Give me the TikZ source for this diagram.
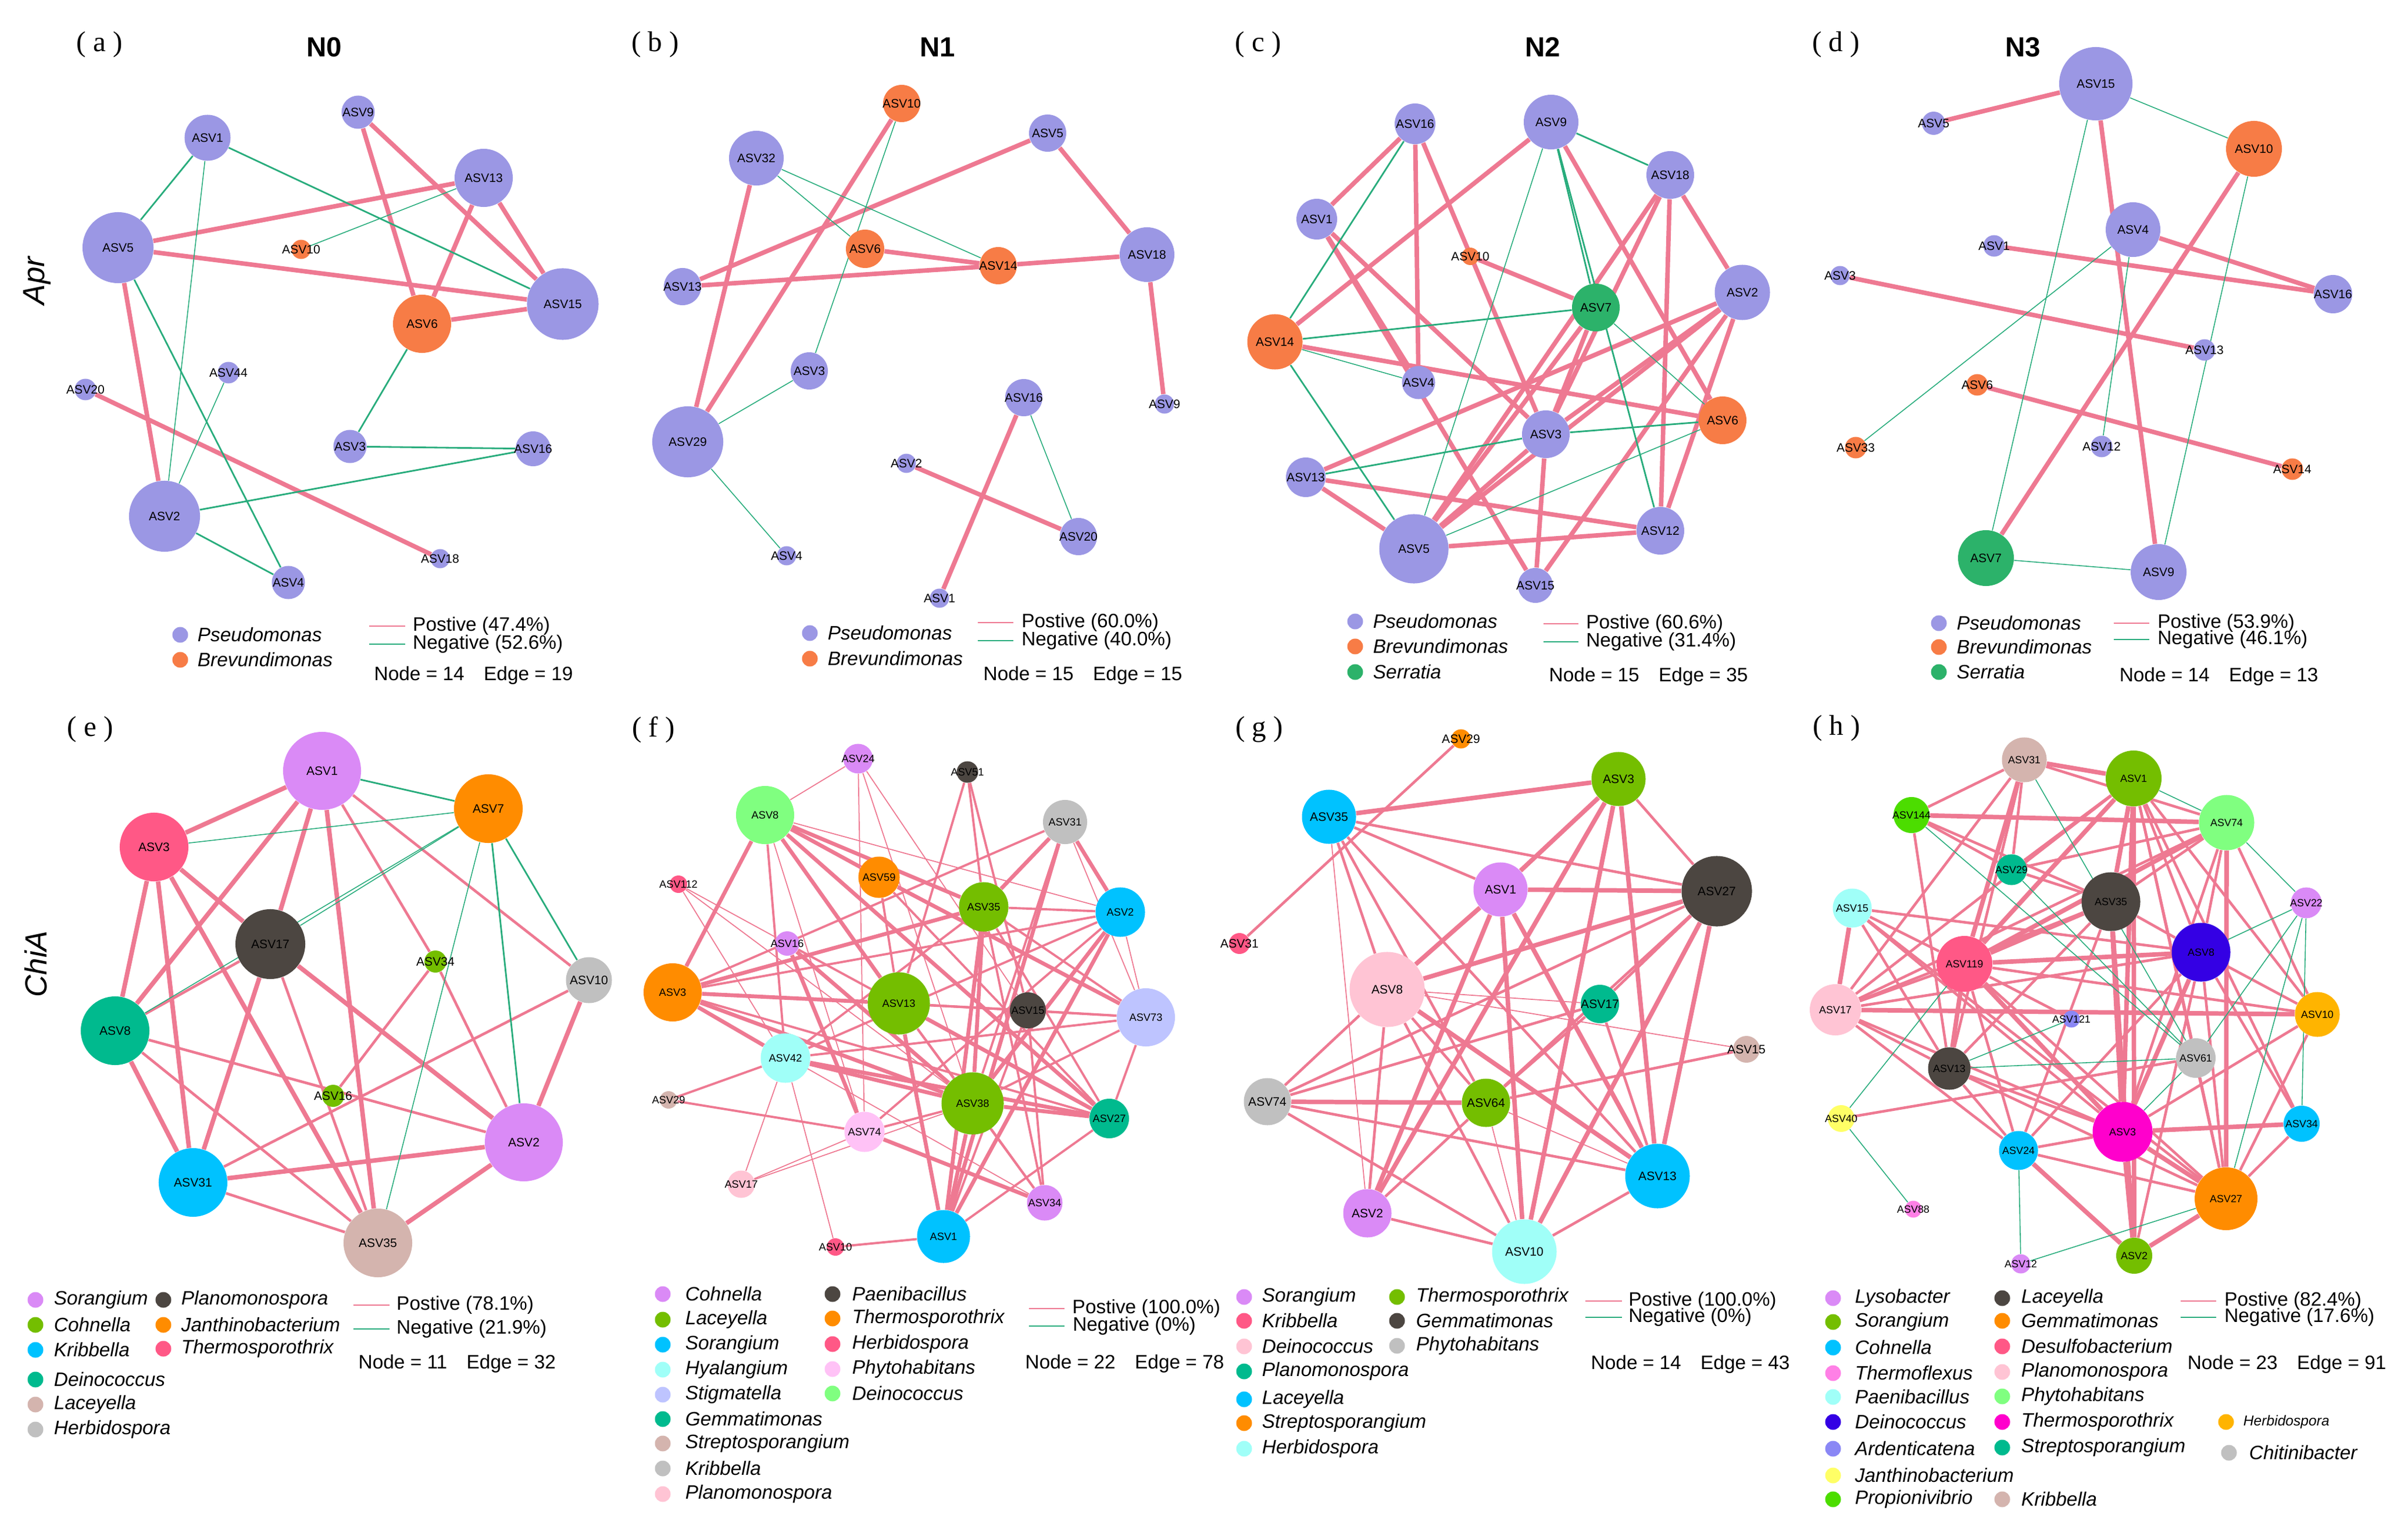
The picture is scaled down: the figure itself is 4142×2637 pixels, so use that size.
\documentclass[tikz,border=0pt]{standalone}
\usepackage{fontspec}
\setmainfont{Liberation Sans}
\newfontfamily\timesfont{Liberation Serif}
\usetikzlibrary{positioning,backgrounds}

\definecolor{cPse}{RGB}{155,151,228}
\definecolor{cBre}{RGB}{247,124,70}
\definecolor{cSer}{RGB}{44,178,106}
\definecolor{cPos}{RGB}{238,121,146}
\definecolor{cNeg}{RGB}{40,172,124}
\definecolor{cViolet}{RGB}{218,138,246}
\definecolor{cLime}{RGB}{116,190,0}
\definecolor{cCyan}{RGB}{0,194,255}
\definecolor{cTeal}{RGB}{0,186,142}
\definecolor{cRosy}{RGB}{212,180,174}
\definecolor{cGray}{RGB}{192,192,192}
\definecolor{cDark}{RGB}{76,70,65}
\definecolor{cOrange}{RGB}{255,140,0}
\definecolor{cHot}{RGB}{255,88,134}
\definecolor{cLcyan}{RGB}{160,255,248}
\definecolor{cLav}{RGB}{190,196,255}
\definecolor{cLpink}{RGB}{255,196,212}
\definecolor{cPinkish}{RGB}{255,194,246}
\definecolor{cLgreen}{RGB}{128,255,128}
\definecolor{cBlue}{RGB}{52,0,228}
\definecolor{cMag}{RGB}{255,0,204}
\definecolor{cYellow}{RGB}{255,255,102}
\definecolor{cBgreen}{RGB}{76,221,0}
\definecolor{cPeri}{RGB}{138,135,245}
\definecolor{cPviolet}{RGB}{255,128,230}
\definecolor{cAmber}{RGB}{255,180,0}

\newcommand\legfont{\fontsize{9.5}{11}\selectfont}

\begin{document}
\begin{tikzpicture}[
    x=0.01cm, y=-0.01cm,
    asv/.style={circle, inner sep=0pt, fill=#1},
    every label/.style={font=\fontsize{6}{6}\selectfont, inner sep=0pt},
    pA/.style={draw=cPos, line width=2.2pt},
    pB/.style={draw=cPos, line width=1.3pt},
    pC/.style={draw=cPos, line width=0.5pt},
    nA/.style={draw=cNeg, line width=0.8pt},
    nB/.style={draw=cNeg, line width=0.45pt},
    dot/.style={circle, inner sep=0pt, minimum size=0.27cm, fill=#1},
    gen/.style={font=\legfont\itshape, inner sep=0pt, anchor=west},
    txt/.style={font=\legfont, inner sep=0pt, anchor=west},
    lpos/.style={draw=cPos, line width=0.7pt},
    lneg/.style={draw=cNeg, line width=0.7pt},
    plabel/.style={font=\timesfont\fontsize{14}{14}\selectfont},
    ptitle/.style={font=\bfseries\fontsize{13.5}{14}\selectfont},
    rowlab/.style={font=\itshape\fontsize{15}{15}\selectfont, rotate=90}
]
    \useasboundingbox (0,0) rectangle (4142,2637);

    % --- Titles ---
    \node[plabel] (pa) at (171,77) {( a )};
    \node[plabel] (pb) at (1127,77) {( b )};
    \node[plabel] (pc) at (2164,77) {( c )};
    \node[plabel] (pd) at (3158,77) {( d )};
    \node[plabel] (pe) at (155,1255) {( e )};
    \node[plabel] (pf) at (1124,1255) {( f )};
    \node[plabel] (pg) at (2166,1255) {( g )};
    \node[plabel] (ph) at (3159,1253) {( h )};
    \node[ptitle] (t0) at (558,81) {N0};
    \node[ptitle] (t1) at (1613,81) {N1};
    \node[ptitle] (t2) at (2654,81) {N2};
    \node[ptitle] (t3) at (3480,81) {N3};
    \node[rowlab] (rapr) at (64,483) {Apr};
    \node[rowlab] (rchia) at (62,1658) {ChiA};

    % --- Panel (a) ---
    \node[asv=cPse, minimum size=0.57cm, label=center:ASV9] (a9) at (616,193) {};
    \node[asv=cPse, minimum size=0.79cm, label=center:ASV1] (a1) at (357,237) {};
    \node[asv=cPse, minimum size=1.00cm, label=center:ASV13] (a13) at (832,306) {};
    \node[asv=cPse, minimum size=1.22cm, label=center:ASV5] (a5) at (203,426) {};
    \node[asv=cBre, minimum size=0.33cm, label=center:ASV10] (a10) at (518,429) {};
    \node[asv=cPse, minimum size=1.23cm, label=center:ASV15] (a15) at (968,523) {};
    \node[asv=cBre, minimum size=1.00cm, label=center:ASV6] (a6) at (726,557) {};
    \node[asv=cPse, minimum size=0.37cm, label=center:ASV44] (a44) at (393,641) {};
    \node[asv=cPse, minimum size=0.37cm, label=center:ASV20] (a20) at (147,670) {};
    \node[asv=cPse, minimum size=0.57cm, label=center:ASV3] (a3) at (602,768) {};
    \node[asv=cPse, minimum size=0.60cm, label=center:ASV16] (a16) at (917,772) {};
    \node[asv=cPse, minimum size=1.22cm, label=center:ASV2] (a2) at (283,888) {};
    \node[asv=cPse, minimum size=0.33cm, label=center:ASV18] (a18) at (757,961) {};
    \node[asv=cPse, minimum size=0.57cm, label=center:ASV4] (a4) at (496,1002) {};
    \begin{pgfonlayer}{background}
        \foreach \u/\v in {a9/a6, a9/a15, a13/a5, a13/a6, a13/a15, a5/a15, a6/a15, a5/a2, a20/a18}
            \draw[pA] (\u) -- (\v);
        \foreach \u/\v in {a1/a5, a1/a15, a5/a4, a6/a3, a3/a16, a16/a2, a2/a4}
            \draw[nA] (\u) -- (\v);
        \foreach \u/\v in {a1/a2, a13/a10, a44/a2}
            \draw[nB] (\u) -- (\v);
    \end{pgfonlayer}
    \node[dot=cPse] (la1) at (310,1092) {};
    \node[gen, right=0.15cm of la1] {Pseudomonas};
    \node[dot=cBre] (la2) at (310,1135) {};
    \node[gen, right=0.15cm of la2] {Brevundimonas};
    \draw[lpos] (635,1077) -- ++(62,0) node[txt, right=0.12cm] {Postive (47.4\%)};
    \draw[lneg] (635,1108) -- ++(62,0) node[txt, right=0.12cm] {Negative (52.6\%)};
    \node[txt] at (643,1162) {Node = 14\quad Edge = 19};

    % --- Panel (b) ---
    \node[asv=cBre, minimum size=0.64cm, label=center:ASV10] (b10) at (1551,178) {};
    \node[asv=cPse, minimum size=0.64cm, label=center:ASV5] (b5) at (1802,229) {};
    \node[asv=cPse, minimum size=0.94cm, label=center:ASV32] (b32) at (1301,272) {};
    \node[asv=cBre, minimum size=0.66cm, label=center:ASV6] (b6) at (1488,428) {};
    \node[asv=cBre, minimum size=0.64cm, label=center:ASV14] (b14) at (1717,457) {};
    \node[asv=cPse, minimum size=0.94cm, label=center:ASV18] (b18) at (1973,438) {};
    \node[asv=cPse, minimum size=0.64cm, label=center:ASV13] (b13) at (1174,493) {};
    \node[asv=cPse, minimum size=0.64cm, label=center:ASV3] (b3) at (1392,638) {};
    \node[asv=cPse, minimum size=0.64cm, label=center:ASV16] (b16) at (1761,684) {};
    \node[asv=cPse, minimum size=0.33cm, label=center:ASV9] (b9) at (2003,695) {};
    \node[asv=cPse, minimum size=1.22cm, label=center:ASV29] (b29) at (1183,760) {};
    \node[asv=cPse, minimum size=0.33cm, label=center:ASV2] (b2) at (1559,797) {};
    \node[asv=cPse, minimum size=0.64cm, label=center:ASV20] (b20) at (1855,923) {};
    \node[asv=cPse, minimum size=0.33cm, label=center:ASV4] (b4) at (1353,956) {};
    \node[asv=cPse, minimum size=0.33cm, label=center:ASV1] (b1) at (1616,1029) {};
    \begin{pgfonlayer}{background}
        \foreach \u/\v in {b10/b29, b32/b29, b5/b13, b5/b18, b6/b14, b13/b14, b14/b18, b18/b9, b16/b1, b2/b20}
            \draw[pA] (\u) -- (\v);
        \foreach \u/\v in {b10/b3, b32/b6, b32/b14, b29/b3, b29/b4, b16/b20}
            \draw[nB] (\u) -- (\v);
    \end{pgfonlayer}
    \node[dot=cPse] (lb1) at (1393,1089) {};
    \node[gen, right=0.16cm of lb1] {Pseudomonas};
    \node[dot=cBre] (lb2) at (1393,1133) {};
    \node[gen, right=0.16cm of lb2] {Brevundimonas};
    \draw[lpos] (1682,1071) -- ++(61,0) node[txt, right=0.13cm] {Postive (60.0\%)};
    \draw[lneg] (1682,1102) -- ++(61,0) node[txt, right=0.13cm] {Negative (40.0\%)};
    \node[txt] at (1691,1162) {Node = 15\quad Edge = 15};

    % --- Panel (c) ---
    \node[asv=cPse, minimum size=0.70cm, label=center:ASV16] (c16) at (2434,213) {};
    \node[asv=cPse, minimum size=0.94cm, label=center:ASV9] (c9) at (2668,210) {};
    \node[asv=cPse, minimum size=0.82cm, label=center:ASV18] (c18) at (2873,301) {};
    \node[asv=cPse, minimum size=0.70cm, label=center:ASV1] (c1) at (2265,377) {};
    \node[asv=cBre, minimum size=0.30cm, label=center:ASV10] (c10) at (2529,441) {};
    \node[asv=cPse, minimum size=0.95cm, label=center:ASV2] (c2) at (2997,503) {};
    \node[asv=cSer, minimum size=0.82cm, label=center:ASV7] (c7) at (2745,529) {};
    \node[asv=cBre, minimum size=0.95cm, label=center:ASV14] (c14) at (2193,588) {};
    \node[asv=cPse, minimum size=0.57cm, label=center:ASV4] (c4) at (2440,658) {};
    \node[asv=cBre, minimum size=0.82cm, label=center:ASV6] (c6) at (2963,723) {};
    \node[asv=cPse, minimum size=0.82cm, label=center:ASV3] (c3) at (2659,747) {};
    \node[asv=cPse, minimum size=0.68cm, label=center:ASV13] (c13) at (2246,821) {};
    \node[asv=cPse, minimum size=0.82cm, label=center:ASV12] (c12) at (2856,913) {};
    \node[asv=cPse, minimum size=1.19cm, label=center:ASV5] (c5) at (2432,944) {};
    \node[asv=cPse, minimum size=0.60cm, label=center:ASV15] (c15) at (2641,1007) {};
    \begin{pgfonlayer}{background}
        \foreach \u/\v in {c16/c1, c16/c4, c16/c3, c9/c14, c9/c6, c1/c4, c1/c15, c1/c3, c10/c7,
                           c18/c5, c18/c3, c18/c2, c18/c12, c2/c13, c2/c5, c2/c3, c2/c12, c2/c15,
                           c7/c5, c7/c3, c14/c6, c3/c5, c3/c15, c13/c5, c13/c12, c5/c12}
            \draw[pA] (\u) -- (\v);
        \foreach \u/\v in {c16/c14, c9/c18, c9/c7, c7/c14, c9/c12, c14/c5, c13/c3, c3/c6}
            \draw[nA] (\u) -- (\v);
        \foreach \u/\v in {c9/c5, c7/c6, c14/c4, c5/c6}
            \draw[nB] (\u) -- (\v);
    \end{pgfonlayer}
    \node[dot=cPse] (lc1) at (2331,1069) {};
    \node[gen, right=0.16cm of lc1] {Pseudomonas};
    \node[dot=cBre] (lc2) at (2331,1112) {};
    \node[gen, right=0.16cm of lc2] {Brevundimonas};
    \node[dot=cSer] (lc3) at (2331,1156) {};
    \node[gen, right=0.16cm of lc3] {Serratia};
    \draw[lpos] (2655,1073) -- ++(60,0) node[txt, right=0.12cm] {Postive (60.6\%)};
    \draw[lneg] (2655,1104) -- ++(60,0) node[txt, right=0.12cm] {Negative (31.4\%)};
    \node[txt] at (2664,1164) {Node = 15\quad Edge = 35};

    % --- Panel (d) ---
    \node[asv=cPse, minimum size=1.26cm, label=center:ASV15] (d15) at (3605,144) {};
    \node[asv=cPse, minimum size=0.40cm, label=center:ASV5] (d5) at (3326,212) {};
    \node[asv=cBre, minimum size=0.96cm, label=center:ASV10] (d10) at (3877,256) {};
    \node[asv=cPse, minimum size=0.94cm, label=center:ASV4] (d4) at (3669,395) {};
    \node[asv=cPse, minimum size=0.37cm, label=center:ASV1] (d1) at (3430,423) {};
    \node[asv=cPse, minimum size=0.33cm, label=center:ASV3] (d3) at (3165,474) {};
    \node[asv=cPse, minimum size=0.66cm, label=center:ASV16] (d16) at (4013,506) {};
    \node[asv=cPse, minimum size=0.37cm, label=center:ASV13] (d13) at (3792,602) {};
    \node[asv=cBre, minimum size=0.37cm, label=center:ASV6] (d6) at (3401,662) {};
    \node[asv=cBre, minimum size=0.37cm, label=center:ASV33] (d33) at (3192,770) {};
    \node[asv=cPse, minimum size=0.37cm, label=center:ASV12] (d12) at (3615,768) {};
    \node[asv=cBre, minimum size=0.37cm, label=center:ASV14] (d14) at (3943,807) {};
    \node[asv=cSer, minimum size=0.96cm, label=center:ASV7] (d7) at (3416,960) {};
    \node[asv=cPse, minimum size=0.96cm, label=center:ASV9] (d9) at (3713,984) {};
    \begin{pgfonlayer}{background}
        \foreach \u/\v in {d15/d5, d15/d9, d10/d7, d4/d16, d1/d16, d3/d13, d6/d14}
            \draw[pA] (\u) -- (\v);
        \foreach \u/\v in {d15/d10, d15/d7, d10/d9, d4/d33, d4/d12, d7/d9}
            \draw[nB] (\u) -- (\v);
    \end{pgfonlayer}
    \node[dot=cPse] (ld1) at (3335,1072) {};
    \node[gen, right=0.16cm of ld1] {Pseudomonas};
    \node[dot=cBre] (ld2) at (3335,1113) {};
    \node[gen, right=0.16cm of ld2] {Brevundimonas};
    \node[dot=cSer] (ld3) at (3335,1156) {};
    \node[gen, right=0.16cm of ld3] {Serratia};
    \draw[lpos] (3636,1072) -- ++(61,0) node[txt, right=0.13cm] {Postive (53.9\%)};
    \draw[lneg] (3636,1100) -- ++(61,0) node[txt, right=0.13cm] {Negative (46.1\%)};
    \node[txt] at (3645,1164) {Node = 14\quad Edge = 13};

    % --- Panel (e) ---
    \node[asv=cViolet, minimum size=1.34cm, label=center:ASV1] (e1) at (554,1326) {};
    \node[asv=cOrange, minimum size=1.18cm, label=center:ASV7] (e7) at (840,1391) {};
    \node[asv=cHot, minimum size=1.18cm, label=center:ASV3] (e3) at (265,1457) {};
    \node[asv=cDark, minimum size=1.20cm, label=center:ASV17] (e17) at (465,1624) {};
    \node[asv=cLime, minimum size=0.38cm, label=center:ASV34] (e34) at (749,1654) {};
    \node[asv=cGray, minimum size=0.79cm, label=center:ASV10] (e10) at (1013,1686) {};
    \node[asv=cTeal, minimum size=1.18cm, label=center:ASV8] (e8) at (198,1773) {};
    \node[asv=cLime, minimum size=0.38cm, label=center:ASV16] (e16) at (573,1885) {};
    \node[asv=cViolet, minimum size=1.34cm, label=center:ASV2] (e2) at (901,1965) {};
    \node[asv=cCyan, minimum size=1.18cm, label=center:ASV31] (e31) at (332,2034) {};
    \node[asv=cRosy, minimum size=1.18cm, label=center:ASV35] (e35) at (650,2138) {};
    \begin{pgfonlayer}{background}
        \foreach \u/\v in {e1/e17, e17/e31, e17/e2, e3/e17, e1/e35, e3/e31, e3/e8, e1/e8,
                           e31/e2, e2/e35, e8/e31, e3/e35, e10/e2, e1/e3}
            \draw[pA] (\u) -- (\v);
        \foreach \u/\v in {e1/e34, e34/e2, e1/e10, e17/e8, e17/e35, e8/e2, e8/e35, e34/e16,
                           e10/e31, e31/e35}
            \draw[pB] (\u) -- (\v);
        \foreach \u/\v in {e7/e10, e7/e2, e1/e7}
            \draw[nA] (\u) -- (\v);
        \foreach \u/\v in {e3/e7, e7/e17, e7/e8, e7/e35}
            \draw[nB] (\u) -- (\v);
    \end{pgfonlayer}
    \foreach \c/\g/\y [count=\i] in {cViolet/Sorangium/2236, cLime/Cohnella/2279, cCyan/Kribbella/2322,
                                     cTeal/Deinococcus/2373, cRosy/Laceyella/2416, cGray/Herbidospora/2459} {
        \node[dot=\c] (le\i) at (61,\y) {};
        \node[gen, right=0.17cm of le\i] {\g};
    }
    \foreach \c/\g/\y [count=\i] in {cDark/Planomonospora/2236, cOrange/Janthinobacterium/2279,
                                     cHot/Thermosporothrix/2320} {
        \node[dot=\c] (lee\i) at (281,\y) {};
        \node[gen, right=0.16cm of lee\i] {\g};
    }
    \draw[lpos] (608,2245) -- ++(62,0) node[txt, right=0.11cm] {Postive (78.1\%)};
    \draw[lneg] (608,2286) -- ++(62,0) node[txt, right=0.11cm] {Negative (21.9\%)};
    \node[txt] at (616,2346) {Node = 11\quad Edge = 32};

    % --- Panel (f) ---
    \begin{scope}[every label/.style={font=\fontsize{5.2}{5}\selectfont, inner sep=0pt}]
    \node[asv=cViolet, minimum size=0.51cm, label=center:ASV24] (f24) at (1476,1305) {};
    \node[asv=cDark, minimum size=0.37cm, label=center:ASV51] (f51) at (1664,1328) {};
    \node[asv=cLgreen, minimum size=1.00cm, label=center:ASV8] (f8) at (1316,1402) {};
    \node[asv=cGray, minimum size=0.76cm, label=center:ASV31] (f31) at (1832,1414) {};
    \node[asv=cHot, minimum size=0.30cm, label=center:ASV112] (f112) at (1167,1521) {};
    \node[asv=cOrange, minimum size=0.71cm, label=center:ASV59] (f59) at (1512,1509) {};
    \node[asv=cLime, minimum size=0.85cm, label=center:ASV35] (f35) at (1692,1560) {};
    \node[asv=cCyan, minimum size=0.85cm, label=center:ASV2] (f2) at (1927,1569) {};
    \node[asv=cViolet, minimum size=0.42cm, label=center:ASV16] (f16) at (1354,1623) {};
    \node[asv=cOrange, minimum size=1.00cm, label=center:ASV3] (f3) at (1157,1707) {};
    \node[asv=cLime, minimum size=1.07cm, label=center:ASV13] (f13) at (1546,1726) {};
    \node[asv=cDark, minimum size=0.62cm, label=center:ASV15] (f15) at (1768,1738) {};
    \node[asv=cLav, minimum size=1.00cm, label=center:ASV73] (f73) at (1971,1750) {};
    \node[asv=cLcyan, minimum size=0.85cm, label=center:ASV42] (f42) at (1351,1820) {};
    \node[asv=cRosy, minimum size=0.30cm, label=center:ASV29] (f29) at (1150,1892) {};
    \node[asv=cLime, minimum size=1.07cm, label=center:ASV38] (f38) at (1673,1898) {};
    \node[asv=cTeal, minimum size=0.68cm, label=center:ASV27] (f27) at (1908,1924) {};
    \node[asv=cPinkish, minimum size=0.69cm, label=center:ASV74] (f74) at (1487,1947) {};
    \node[asv=cLpink, minimum size=0.47cm, label=center:ASV17] (f17) at (1275,2037) {};
    \node[asv=cViolet, minimum size=0.61cm, label=center:ASV34] (f34) at (1797,2069) {};
    \node[asv=cHot, minimum size=0.30cm, label=center:ASV10] (f10) at (1437,2145) {};
    \node[asv=cCyan, minimum size=0.91cm, label=center:ASV1] (f1) at (1623,2127) {};
    \end{scope}
    \begin{pgfonlayer}{background}
        \foreach \u/\v in {f8/f3, f8/f59, f8/f35, f8/f13, f8/f27, f31/f2, f31/f35, f31/f1, f35/f3,
                           f35/f38, f35/f1, f2/f38, f2/f1, f16/f74, f16/f38, f3/f13, f3/f42, f3/f38,
                           f42/f38, f42/f27, f38/f27, f38/f1, f74/f34, f59/f73, f13/f27, f13/f1}
            \draw[pA, line width=1.9pt] (\u) -- (\v);
        \foreach \u/\v in {f8/f42, f51/f35, f51/f13, f51/f15, f31/f38, f59/f13, f59/f27, f35/f2,
                           f35/f42, f35/f73, f35/f27, f35/f34, f2/f3, f2/f42, f2/f74, f16/f27, f3/f15,
                           f3/f27, f13/f15, f13/f73, f13/f38, f13/f34, f15/f73, f15/f1, f15/f34,
                           f73/f42, f73/f38, f73/f27, f42/f29, f29/f74, f38/f74, f38/f34, f10/f1,
                           f1/f27, f31/f3}
            \draw[pB, line width=1.1pt] (\u) -- (\v);
        \foreach \u/\v in {f24/f8, f24/f74, f24/f38, f24/f15, f8/f2, f8/f73, f8/f74, f112/f16,
                           f112/f42, f112/f38, f31/f73, f2/f73, f42/f17, f74/f17, f38/f17, f10/f42, f3/f34}
            \draw[pC] (\u) -- (\v);
    \end{pgfonlayer}
    \foreach \c/\g/\y [count=\i] in {cViolet/Cohnella/2226, cLime/Laceyella/2270, cCyan/Sorangium/2313,
                                     cLcyan/Hyalangium/2356, cLav/Stigmatella/2399, cTeal/Gemmatimonas/2441,
                                     cRosy/Streptosporangium/2483, cGray/Kribbella/2526,
                                     cLpink/Planomonospora/2570} {
        \node[dot=\c] (lf\i) at (1140,\y) {};
        \node[gen, right=0.24cm of lf\i] {\g};
    }
    \foreach \c/\g/\y [count=\i] in {cDark/Paenibacillus/2226, cOrange/Thermosporothrix/2268,
                                     cHot/Herbidospora/2312, cPinkish/Phytohabitans/2355,
                                     cLgreen/Deinococcus/2397} {
        \node[dot=\c] (lff\i) at (1432,\y) {};
        \node[gen, right=0.19cm of lff\i] {\g};
    }
    \draw[lpos, line width=0.4pt] (1770,2251) -- ++(61,0) node[txt, right=0.13cm] {Postive (100.0\%)};
    \draw[lneg] (1770,2281) -- ++(61,0) node[txt, right=0.13cm] {Negative (0\%)};
    \node[txt] at (1763,2346) {Node = 22\quad Edge = 78};

    % --- Panel (g) ---
    \node[asv=cOrange, minimum size=0.33cm, label=center:ASV29] (g29) at (2513,1271) {};
    \node[asv=cLime, minimum size=0.93cm, label=center:ASV3] (g3) at (2784,1340) {};
    \node[asv=cCyan, minimum size=0.93cm, label=center:ASV35] (g35) at (2286,1405) {};
    \node[asv=cViolet, minimum size=0.93cm, label=center:ASV1] (g1) at (2581,1530) {};
    \node[asv=cDark, minimum size=1.21cm, label=center:ASV27] (g27) at (2953,1533) {};
    \node[asv=cHot, minimum size=0.36cm, label=center:ASV31] (g31) at (2132,1623) {};
    \node[asv=cLpink, minimum size=1.29cm, label=center:ASV8] (g8) at (2386,1702) {};
    \node[asv=cTeal, minimum size=0.66cm, label=center:ASV17] (g17) at (2752,1727) {};
    \node[asv=cRosy, minimum size=0.46cm, label=center:ASV15] (g15) at (3004,1805) {};
    \node[asv=cGray, minimum size=0.81cm, label=center:ASV74] (g74) at (2180,1895) {};
    \node[asv=cLime, minimum size=0.83cm, label=center:ASV64] (g64) at (2556,1897) {};
    \node[asv=cCyan, minimum size=1.11cm, label=center:ASV13] (g13) at (2851,2023) {};
    \node[asv=cViolet, minimum size=0.83cm, label=center:ASV2] (g2) at (2352,2087) {};
    \node[asv=cLcyan, minimum size=1.11cm, label=center:ASV10] (g10) at (2622,2153) {};
    \begin{pgfonlayer}{background}
        \foreach \u/\v in {g35/g3, g3/g1, g1/g27, g1/g8, g1/g2, g1/g10, g1/g13, g27/g8, g27/g13,
                           g27/g10, g8/g13, g74/g64, g3/g13, g3/g10, g3/g2}
            \draw[pA] (\u) -- (\v);
        \foreach \u/\v in {g29/g31, g35/g1, g35/g27, g35/g8, g35/g64, g35/g13, g3/g27, g27/g17,
                           g27/g74, g8/g64, g8/g10, g8/g2, g8/g74, g17/g64, g17/g13, g15/g64,
                           g74/g13, g74/g10, g64/g2, g2/g10, g10/g13, g27/g64, g17/g74}
            \draw[pB] (\u) -- (\v);
        \foreach \u/\v in {g35/g2, g8/g17, g8/g15, g64/g10, g64/g13}
            \draw[pC] (\u) -- (\v);
    \end{pgfonlayer}
    \foreach \c/\g/\y [count=\i] in {cViolet/Sorangium/2231, cHot/Kribbella/2272, cLpink/Deinococcus/2316,
                                     cTeal/Planomonospora/2359, cCyan/Laceyella/2407,
                                     cOrange/Streptosporangium/2448, cLcyan/Herbidospora/2492} {
        \node[dot=\c] (lg\i) at (2140,\y) {};
        \node[gen, right=0.16cm of lg\i] {\g};
    }
    \foreach \c/\g/\y [count=\i] in {cLime/Thermosporothrix/2231, cDark/Gemmatimonas/2272,
                                     cGray/Phytohabitans/2315} {
        \node[dot=\c] (lgg\i) at (2403,\y) {};
        \node[gen, right=0.18cm of lgg\i] {\g};
    }
    \draw[lpos] (2727,2238) -- ++(63,0) node[txt, right=0.10cm] {Postive (100.0\%)};
    \draw[lneg] (2727,2266) -- ++(63,0) node[txt, right=0.10cm] {Negative (0\%)};
    \node[txt] at (2736,2347) {Node = 14\quad Edge = 43};

    % --- Panel (h) ---
    \begin{scope}[every label/.style={font=\fontsize{5.1}{5}\selectfont, inner sep=0pt}]
    \node[asv=cRosy, minimum size=0.77cm, label=center:ASV31] (h31) at (3482,1307) {};
    \node[asv=cLime, minimum size=0.96cm, label=center:ASV1] (h1) at (3670,1339) {};
    \node[asv=cBgreen, minimum size=0.62cm, label=center:ASV144] (h144) at (3288,1402) {};
    \node[asv=cLgreen, minimum size=0.95cm, label=center:ASV74] (h74) at (3830,1415) {};
    \node[asv=cTeal, minimum size=0.53cm, label=center:ASV29] (h29) at (3460,1496) {};
    \node[asv=cDark, minimum size=1.01cm, label=center:ASV35] (h35) at (3631,1551) {};
    \node[asv=cViolet, minimum size=0.53cm, label=center:ASV22] (h22) at (3967,1553) {};
    \node[asv=cLcyan, minimum size=0.67cm, label=center:ASV15] (h15) at (3186,1562) {};
    \node[asv=cBlue, minimum size=1.01cm, label=center:ASV8] (h8) at (3786,1638) {};
    \node[asv=cHot, minimum size=0.96cm, label=center:ASV119] (h119) at (3379,1658) {};
    \node[asv=cLpink, minimum size=0.88cm, label=center:ASV17] (h17) at (3157,1737) {};
    \node[asv=cPeri, minimum size=0.29cm, label=center:ASV121] (h121) at (3563,1753) {};
    \node[asv=cAmber, minimum size=0.77cm, label=center:ASV10] (h10) at (3986,1745) {};
    \node[asv=cGray, minimum size=0.68cm, label=center:ASV61] (h61) at (3777,1820) {};
    \node[asv=cDark, minimum size=0.73cm, label=center:ASV13] (h13) at (3353,1838) {};
    \node[asv=cYellow, minimum size=0.46cm, label=center:ASV40] (h40) at (3167,1924) {};
    \node[asv=cCyan, minimum size=0.62cm, label=center:ASV34] (h34) at (3959,1933) {};
    \node[asv=cMag, minimum size=1.03cm, label=center:ASV3] (h3) at (3651,1947) {};
    \node[asv=cCyan, minimum size=0.67cm, label=center:ASV24] (h24) at (3472,1979) {};
    \node[asv=cOrange, minimum size=1.08cm, label=center:ASV27] (h27) at (3829,2062) {};
    \node[asv=cPviolet, minimum size=0.29cm, label=center:ASV88] (h88) at (3291,2080) {};
    \node[asv=cLime, minimum size=0.62cm, label=center:ASV2] (h2) at (3671,2160) {};
    \node[asv=cViolet, minimum size=0.33cm, label=center:ASV12] (h12) at (3476,2174) {};
    \end{scope}
    \begin{pgfonlayer}{background}
        \foreach \u/\v in {h31/h1, h31/h119, h1/h35, h1/h3, h1/h2, h74/h27, h35/h3, h8/h3, h119/h13,
                           h3/h34, h24/h2, h27/h2, h144/h74, h17/h10, h15/h17, h1/h119, h74/h119,
                           h35/h119, h8/h119, h119/h3, h3/h27, h3/h2, h35/h2}
            \draw[pA] (\u) -- (\v);
        \foreach \u/\v in {h31/h144, h31/h29, h31/h17, h31/h74, h31/h13, h1/h29, h1/h8, h1/h10,
                           h1/h27, h1/h34, h1/h17, h1/h61, h144/h29, h144/h35, h144/h13, h74/h35,
                           h74/h29, h74/h17, h74/h8, h74/h10, h74/h3, h29/h35, h35/h17, h35/h8,
                           h35/h13, h35/h24, h15/h119, h15/h8, h15/h13, h15/h3, h15/h27, h8/h10,
                           h8/h2, h8/h27, h8/h34, h8/h24, h8/h17, h119/h17, h119/h27, h119/h10,
                           h119/h24, h17/h13, h17/h3, h17/h24, h13/h3, h13/h27, h13/h24, h40/h61,
                           h24/h3, h24/h27, h3/h10, h61/h27, h10/h27, h34/h27, h119/h121}
            \draw[pB] (\u) -- (\v);
        \foreach \u/\v in {h31/h61, h1/h74, h144/h61, h29/h61, h74/h22, h22/h8, h22/h61, h22/h27,
                           h22/h34, h119/h40, h121/h13, h13/h61, h40/h88, h24/h12, h12/h27, h3/h61}
            \draw[nB] (\u) -- (\v);
    \end{pgfonlayer}
    \foreach \c/\g/\y [count=\i] in {cViolet/Lysobacter/2233, cLime/Sorangium/2274, cCyan/Cohnella/2318,
                                     cPviolet/Thermoflexus/2362, cLcyan/Paenibacillus/2403,
                                     cBlue/Deinococcus/2446, cPeri/Ardenticatena/2492,
                                     cYellow/Janthinobacterium/2538, cBgreen/Propionivibrio/2579} {
        \node[dot=\c] (lh\i) at (3153,\y) {};
        \node[gen, right=0.23cm of lh\i] {\g};
    }
    \foreach \c/\g/\y [count=\i] in {cDark/Laceyella/2233, cOrange/Gemmatimonas/2272,
                                     cHot/Desulfobacterium/2316, cLpink/Planomonospora/2360,
                                     cLgreen/Phytohabitans/2402, cMag/Thermosporothrix/2446,
                                     cTeal/Streptosporangium/2490, cRosy/Kribbella/2579} {
        \node[dot=\c] (lhh\i) at (3444,\y) {};
        \node[gen, right=0.18cm of lhh\i] {\g};
    }
    \node[dot=cAmber] (lhx1) at (3829,2446) {};
    \node[gen, font=\fontsize{7}{8}\selectfont\itshape, right=0.15cm of lhx1] {Herbidospora};
    \node[dot=cGray] (lhx2) at (3834,2499) {};
    \node[gen, right=0.2cm of lhx2] {Chitinibacter};
    \draw[lpos] (3751,2238) -- ++(61,0) node[txt, right=0.13cm] {Postive (82.4\%)};
    \draw[lneg] (3751,2266) -- ++(61,0) node[txt, right=0.13cm] {Negative (17.6\%)};
    \node[txt] at (3762,2347) {Node = 23\quad Edge = 91};
\end{tikzpicture}
\end{document}
